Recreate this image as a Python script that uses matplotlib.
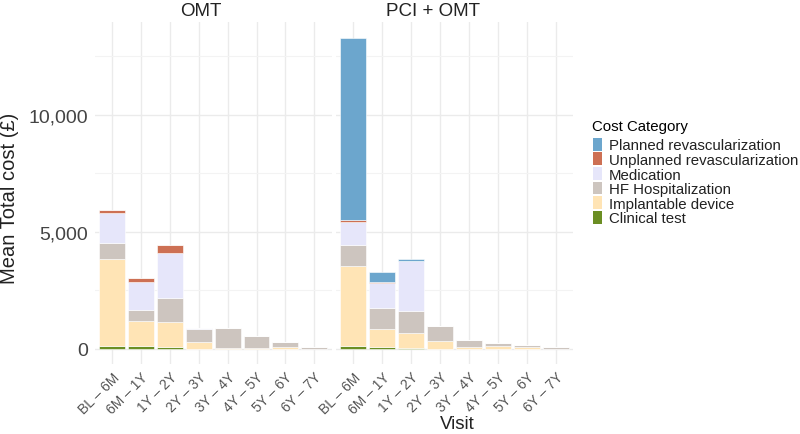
import matplotlib.pyplot as plt
import numpy as np
from matplotlib.patches import Patch
from matplotlib.ticker import FuncFormatter, MultipleLocator
import matplotlib.transforms as mtransforms

plt.rcParams['font.family'] = ['Liberation Sans', 'DejaVu Sans']

visits = ['BL – 6M', '6M – 1Y', '1Y – 2Y', '2Y – 3Y', '3Y – 4Y', '4Y – 5Y', '5Y – 6Y', '6Y – 7Y']
panels = ['OMT', 'PCI + OMT']

# stacked bottom -> top
categories = ['Clinical test', 'Implantable device', 'HF Hospitalization',
              'Medication', 'Unplanned revascularization', 'Planned revascularization']
colors = ['#6B8E23', '#FFE4B5', '#CDC5BF', '#E6E6FA', '#CD7054', '#6CA6CD']

omt_clinical = [115, 100, 45, 0, 0, 0, 0, 0]
omt_implant = [3690, 1090, 1080, 290, 10, 15, 85, 0]
omt_hf = [695, 440, 1050, 560, 860, 510, 210, 55]
omt_medication = [1310, 1210, 1920, 10, 0, 0, 0, 0]
omt_unplanned = [130, 180, 340, 35, 0, 0, 0, 0]
omt_planned = [0, 0, 0, 0, 0, 0, 0, 0]

pci_clinical = [110, 80, 30, 0, 0, 0, 0, 0]
pci_implant = [3420, 755, 650, 320, 70, 100, 80, 0]
pci_hf = [890, 885, 920, 630, 315, 130, 90, 65]
pci_medication = [990, 1080, 2160, 0, 0, 0, 0, 0]
pci_unplanned = [80, 35, 0, 0, 0, 0, 0, 0]
pci_planned = [7770, 450, 75, 0, 0, 0, 0, 0]

data = {
    'OMT': [omt_clinical, omt_implant, omt_hf, omt_medication, omt_unplanned, omt_planned],
    'PCI + OMT': [pci_clinical, pci_implant, pci_hf, pci_medication, pci_unplanned, pci_planned],
}

fig = plt.figure(figsize=(8, 4.35), dpi=100)
ax1 = fig.add_axes([95 / 800, 1 - 365 / 435, 236.5 / 800, 342 / 435])
ax2 = fig.add_axes([336 / 800, 1 - 365 / 435, 237 / 800, 342 / 435], sharey=ax1)

x = np.arange(len(visits))
for ax, name in zip([ax1, ax2], panels):
    bottom = np.zeros(len(visits))
    for vals, col in zip(data[name], colors):
        vals = np.array(vals, dtype=float)
        ax.bar(x, vals, width=0.9, bottom=bottom, color=col,
               edgecolor='white', linewidth=0.4, zorder=3)
        bottom += vals
    ax.set_xlim(-0.6, 7.6)
    ax.set_xticks(x)
    ax.set_xticklabels(visits, rotation=45, ha='right', rotation_mode='anchor',
                       fontsize=10, color='#555555')
    # shift labels a bit to the right like the reference
    offset = mtransforms.ScaledTranslation(6 / 100, -1 / 100, fig.dpi_scale_trans)
    for lab in ax.get_xticklabels():
        lab.set_transform(lab.get_transform() + offset)
    ax.tick_params(axis='both', which='both', length=0)
    ax.tick_params(axis='x', pad=4)
    ax.tick_params(axis='y', pad=5, labelsize=14, labelcolor='#444444')
    ax.yaxis.set_major_locator(MultipleLocator(5000))
    ax.yaxis.set_minor_locator(MultipleLocator(2500))
    ax.grid(axis='x', color='#EBEBEB', linewidth=1.0, zorder=0)
    ax.grid(axis='y', which='major', color='#EBEBEB', linewidth=1.0, zorder=0)
    ax.grid(axis='y', which='minor', color='#F3F3F3', linewidth=0.8, zorder=0)
    for s in ax.spines.values():
        s.set_visible(False)

ax1.set_ylim(-662, 13955)
ax1.yaxis.set_major_formatter(FuncFormatter(lambda v, p: f'{int(v):,}'))
ax2.tick_params(axis='y', labelleft=False)

# facet titles
fig.text(200.5 / 800, 1 - 12 / 435, 'OMT', ha='center', va='center', fontsize=13.5, color='#222222')
fig.text(433 / 800, 1 - 12 / 435, 'PCI + OMT', ha='center', va='center', fontsize=13.5, color='#222222')

# axis titles
fig.text(10 / 800, 1 - 198 / 435, 'Mean Total cost (£)', rotation=90, ha='center', va='center',
         fontsize=14.5, color='#222222')
fig.text(457 / 800, 1 - 425 / 435, 'Visit', ha='center', va='center', fontsize=13.5, color='#222222')

# legend, top entry first
handles = [Patch(facecolor=c, edgecolor='none') for c in colors[::-1]]
leg = fig.legend(handles, categories[::-1], title='Cost Category',
                 loc='upper left', bbox_to_anchor=(585 / 800, 1 - 113 / 435),
                 frameon=False, fontsize=10.8, title_fontsize=10.8,
                 handlelength=0.65, handleheight=0.95, handletextpad=0.45,
                 labelspacing=0.0, borderpad=0, alignment='left')
leg._legend_box.sep = 3
for t in leg.get_texts():
    t.set_color('#222222')

fig.savefig('out.png', dpi=100)
